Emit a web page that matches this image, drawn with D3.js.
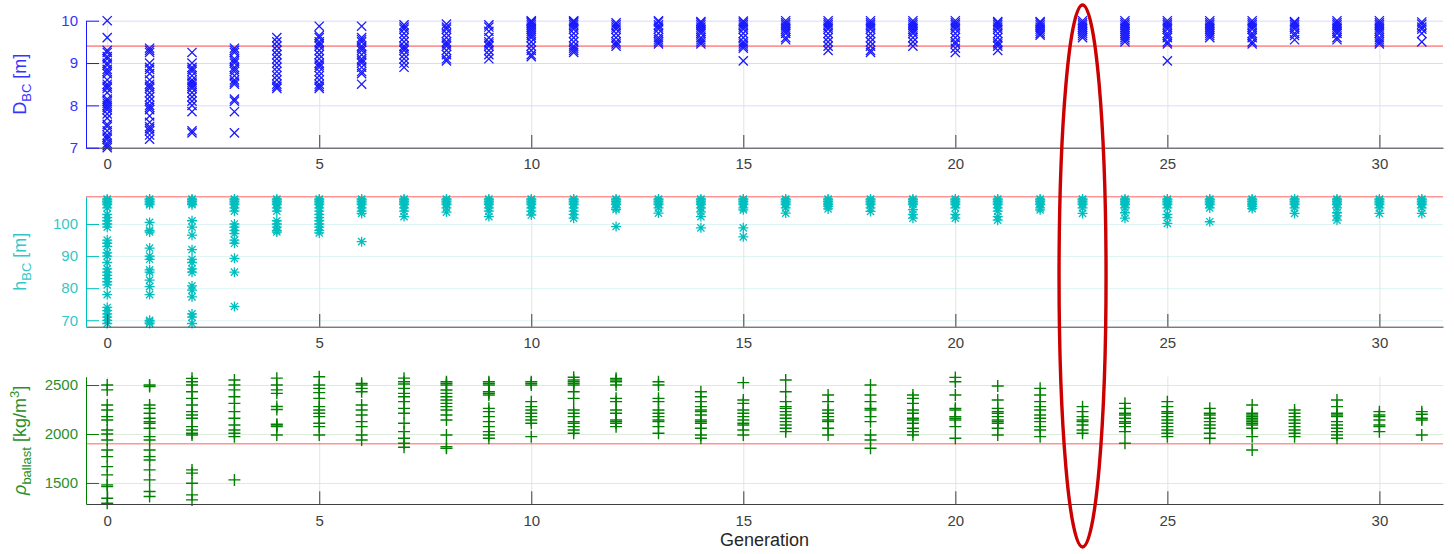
<!DOCTYPE html>
<html>
<head>
<meta charset="utf-8">
<script src="https://cdn.jsdelivr.net/npm/d3@7"></script>
<style>
  body { margin: 0; background: #fff; }
  svg { font-family: "Liberation Sans", Arial, sans-serif; }
</style>
</head>
<body>
<svg id="chart" width="1454" height="554"></svg>
<script>
// generations 0..31, one array of individuals per generation
var xTicks = [0, 5, 10, 15, 20, 25, 30];

// D_BC [m]
var dbc = [
  [10.0,9.6,9.3,9.25,9.15,9.1,9.0,8.95,8.85,8.8,8.75,8.6,8.5,8.45,8.4,8.3,8.15,8.1,8.05,8.0,7.95,7.9,7.8,7.7,7.55,7.5,7.4,7.3,7.25,7.2,7.1,7.05,7.0],
  [9.35,9.3,9.25,9.0,8.9,8.85,8.75,8.6,8.5,8.45,8.4,8.3,8.2,8.1,8.0,7.95,7.9,7.75,7.6,7.5,7.45,7.4,7.3,7.2],
  [9.25,9.0,8.9,8.85,8.8,8.7,8.6,8.55,8.5,8.45,8.4,8.3,8.2,8.1,8.0,7.85,7.4,7.35],
  [9.35,9.3,9.25,9.1,9.05,9.0,8.9,8.85,8.8,8.7,8.6,8.55,8.5,8.15,8.1,7.85,7.35],
  [9.6,9.5,9.4,9.3,9.2,9.1,9.0,8.9,8.8,8.7,8.6,8.5,8.45,8.4],
  [9.87,9.65,9.6,9.5,9.45,9.4,9.3,9.2,9.1,9.0,8.95,8.9,8.8,8.7,8.6,8.5,8.45,8.4],
  [9.87,9.6,9.55,9.5,9.4,9.35,9.3,9.2,9.1,9.05,9.0,8.9,8.8,8.75,8.5],
  [9.9,9.85,9.8,9.7,9.6,9.5,9.4,9.35,9.3,9.2,9.1,9.0,8.9],
  [9.92,9.85,9.8,9.7,9.6,9.5,9.45,9.4,9.3,9.2,9.1,9.05],
  [9.9,9.85,9.75,9.6,9.5,9.45,9.4,9.3,9.2,9.1],
  [10.0,9.98,9.95,9.9,9.85,9.8,9.75,9.7,9.65,9.6,9.5,9.4,9.3,9.2,9.15],
  [10.0,9.98,9.95,9.9,9.85,9.8,9.7,9.6,9.5,9.4,9.35,9.3,9.25],
  [9.95,9.9,9.85,9.8,9.7,9.6,9.5,9.45,9.4],
  [10.0,9.97,9.9,9.85,9.8,9.7,9.6,9.55,9.5,9.45],
  [9.98,9.95,9.9,9.85,9.8,9.75,9.7,9.6,9.55,9.5,9.45],
  [9.99,9.95,9.9,9.85,9.8,9.7,9.6,9.5,9.45,9.4,9.35,9.05],
  [10.0,9.95,9.9,9.85,9.8,9.75,9.7,9.6,9.55],
  [10.0,9.95,9.9,9.85,9.8,9.7,9.6,9.5,9.4,9.3],
  [10.0,9.95,9.9,9.85,9.8,9.7,9.6,9.5,9.4,9.3,9.25],
  [10.0,9.95,9.9,9.85,9.8,9.75,9.7,9.6,9.5,9.4],
  [10.0,9.95,9.9,9.85,9.8,9.7,9.6,9.5,9.45,9.35,9.25],
  [9.98,9.95,9.9,9.85,9.8,9.7,9.6,9.5,9.45,9.4,9.3],
  [9.98,9.95,9.9,9.85,9.8,9.75,9.7,9.66],
  [10.0,9.95,9.9,9.85,9.8,9.75,9.7,9.65,9.6],
  [10.0,9.95,9.9,9.85,9.8,9.75,9.7,9.65,9.6,9.55,9.5],
  [10.0,9.95,9.9,9.85,9.8,9.7,9.65,9.6,9.5,9.45,9.05],
  [10.0,9.95,9.9,9.85,9.8,9.75,9.7,9.65,9.6],
  [10.0,9.95,9.9,9.85,9.8,9.7,9.65,9.6,9.5,9.45],
  [9.98,9.95,9.9,9.85,9.8,9.7,9.65,9.55],
  [10.0,9.95,9.9,9.85,9.8,9.75,9.7,9.6,9.55],
  [10.0,9.95,9.9,9.85,9.8,9.75,9.7,9.6,9.55,9.5,9.45],
  [9.97,9.92,9.85,9.8,9.7,9.5]
];
var dTicks = [7, 8, 9, 10];
var dLimit = 9.4;

// h_BC [m]
var hbc = [
  [107.8,107.5,107,106.5,106,105,103,102,101,100,99,95,94,93,91,90,88,86,85,84,83,82,81,78,74,73,72,71,70,69],
  [107.8,107.5,107,106.5,106,100.5,98,97.5,92.5,90,89,85.7,85,82.5,80.5,78,70,69.5,69],
  [107.8,107.5,107,106.5,106,101,99,96.5,92,89,88,86,85,80.7,79.4,77.3,72,71,69],
  [107.8,107.5,107,106.5,106,105,104,100,99,98,97,95,94,89.3,85,74.3],
  [107.8,107.5,107,106.5,106,105,104,101,100,99,98,97.5],
  [107.8,107.5,107,106.5,106,105,104,103,102,101,100,99,98,97.2],
  [107.8,107.5,107,106.5,106,105,104,103.3,94.5],
  [107.8,107.5,107,106.5,106,105,104,102.3],
  [107.8,107.5,107,106.5,106,105,103.7],
  [107.8,107.5,107,106.5,106,105,104,102.3],
  [107.8,107.5,107,106.5,106,105,104,102.8],
  [107.8,107.5,107,106.5,106,105,104,103,101.8],
  [107.8,107.5,107,106.5,106,105,104.5,99.2],
  [107.8,107.5,107,106.5,106,105,103.4],
  [107.8,107.5,107,106.5,106,105,103.8,102.3,98.8],
  [107.8,107.5,107,106.5,106,105,104.4,98.8,96],
  [107.8,107.5,107,106.5,106,105,103.4],
  [107.8,107.5,107,106.5,106,105.5,104.7],
  [107.8,107.5,107,106.5,106,105,103.9],
  [107.8,107.5,107,106.5,106,104.5,103,101.8],
  [107.8,107.5,107,106.5,106,105,103,101.8],
  [107.8,107.5,107,106.5,106,105,104,102.3,101.2],
  [107.8,107.5,107,106.5,106,105,104.4],
  [107.8,107.5,107,106.5,106,105,103.3],
  [107.8,107.5,107,106.5,106,105,103.5,101.8],
  [107.8,107.5,107,106.5,106,105,103,102,100.2],
  [107.8,107.5,107,106.5,106,105,100.7],
  [107.8,107.5,107,106.5,106,105.5,104.8],
  [107.8,107.5,107,106.5,106,105,103.3],
  [107.8,107.5,107,106.5,106,105,103.5,102.5,101.2],
  [107.8,107.5,107,106.5,106,105,103.3],
  [107.8,107.5,107,106.5,106,105,103.3]
];
var hTicks = [70, 80, 90, 100];
var hLimit = 108.5;

// rho_ballast [kg/m3]
var rho = [
  [2500,2450,2296,2245,2177,2143,2041,2000,1939,1837,1769,1667,1582,1480,1463,1344,1293],
  [2500,2485,2296,2262,2211,2160,2126,2109,2058,1973,1939,1837,1769,1735,1633,1531,1412,1361],
  [2568,2534,2500,2432,2364,2296,2228,2194,2160,2075,2041,2007,1990,1633,1600,1497,1378,1327],
  [2551,2500,2450,2381,2313,2228,2160,2092,2041,2007,1973,1531],
  [2570,2500,2450,2415,2280,2250,2100,2090,2075,1990],
  [2585,2500,2466,2422,2364,2279,2245,2211,2177,2109,2075,1990],
  [2517,2500,2466,2432,2296,2245,2194,2126,2075,1990,1939],
  [2570,2534,2510,2466,2415,2381,2330,2262,2211,2109,2024,1956,1905,1864],
  [2534,2517,2500,2449,2415,2381,2347,2313,2279,2245,2194,2143,1990,1871,1854],
  [2534,2517,2500,2432,2415,2398,2262,2228,2177,2126,2075,2024,1990,1956],
  [2534,2517,2500,2330,2279,2245,2211,2177,2143,2109,1973],
  [2580,2551,2534,2517,2500,2432,2364,2245,2211,2177,2126,2109,2075,2041,2007],
  [2568,2551,2534,2500,2364,2330,2245,2211,2143,2126,2109,2075],
  [2534,2500,2364,2330,2245,2211,2177,2143,2126,2075,2007],
  [2432,2381,2330,2279,2245,2228,2194,2143,2126,2109,2058,1990,1956],
  [2524,2347,2313,2245,2211,2177,2143,2109,2092,2041,1990],
  [2551,2432,2330,2279,2262,2228,2194,2160,2126,2092,2058,2024],
  [2398,2330,2245,2211,2177,2143,2126,2058,1990],
  [2500,2398,2330,2262,2245,2177,2126,1990,1939,1854],
  [2398,2364,2313,2245,2211,2160,2143,2109,2058,2024,1990],
  [2578,2534,2398,2262,2245,2177,2160,2143,2075,1956],
  [2490,2347,2262,2228,2211,2177,2143,2126,2109,2058,1990],
  [2466,2398,2330,2279,2245,2194,2160,2126,2075,2041,1973],
  [2279,2228,2177,2143,2126,2092,2041,2007],
  [2313,2262,2211,2194,2160,2126,2109,2075,2024,1905],
  [2330,2279,2228,2211,2177,2143,2109,2075,2041,2007,1973],
  [2262,2211,2194,2160,2126,2092,2058,2007,1956],
  [2296,2211,2194,2177,2160,2143,2126,2109,2092,2058,1973,1837],
  [2245,2211,2177,2143,2109,2075,2041,2007,1973],
  [2347,2279,2211,2194,2177,2126,2092,2058,2024,1990,1956],
  [2228,2194,2177,2143,2092,2075,2024],
  [2228,2201,2160,2143,1990]
];
var rTicks = [1500, 2000, 2500];
var rLimit = 1900;

var highlightGen = 23;

var svg = d3.select("#chart");

var x = d3.scaleLinear().domain([-0.5, 31.5]).range([86, 1443]);
var plotWidth = 1443 - 86;

// marker shapes
var markers = {
  x: "M-4.6,-4.6L4.6,4.6M-4.6,4.6L4.6,-4.6",
  star: "M-5,0L5,0M0,-5L0,5M-3.6,-3.6L3.6,3.6M-3.6,3.6L3.6,-3.6",
  plus: "M-6,0L6,0M0,-6L0,6"
};

var panels = [
  {data: dbc, ticks: dTicks, limit: dLimit, domain: [7, 10], range: [147.7, 20.7],
   color: "#1a1aff", text: "#3535ff", grid: "#d9d9ff", marker: "x", width: 1.3},
  {data: hbc, ticks: hTicks, limit: hLimit, domain: [68, 108.5], range: [326.7, 196.7],
   color: "#00bfbf", text: "#33c8c8", grid: "#def4f4", marker: "star", width: 1.3},
  {data: rho, ticks: rTicks, limit: rLimit, domain: [1285, 2585], range: [504, 376.7],
   color: "#008000", text: "#2a8f2a", grid: "#dcebdc", marker: "plus", width: 1.4}
];

panels.forEach(function(p, i) {
  var y = d3.scaleLinear().domain(p.domain).range(p.range);
  var bottom = p.range[0], top = p.range[1];
  var g = svg.append("g");

  // horizontal grid
  g.append("g")
    .attr("transform", "translate(86,0)")
    .call(d3.axisLeft(y).tickValues(p.ticks).tickSize(-plotWidth).tickFormat(""))
    .call(function(s) {
      s.select(".domain").remove();
      s.selectAll("line").attr("stroke", p.grid).attr("stroke-width", 1);
    });

  // vertical grid
  g.append("g")
    .attr("transform", "translate(0," + bottom + ")")
    .call(d3.axisBottom(x).tickValues(xTicks).tickSize(-(bottom - top)).tickFormat(""))
    .call(function(s) {
      s.select(".domain").remove();
      s.selectAll("line").attr("stroke", "#e3e3e3").attr("stroke-width", 1);
    });

  // limit line
  g.append("line")
    .attr("x1", 86).attr("x2", 1443)
    .attr("y1", y(p.limit)).attr("y2", y(p.limit))
    .attr("stroke", "#ff0000").attr("stroke-opacity", 0.42).attr("stroke-width", 1.6);

  // points
  var pts = [];
  p.data.forEach(function(vals, gen) {
    vals.forEach(function(v) { pts.push({gen: gen, v: v}); });
  });
  g.append("g").selectAll("path")
    .data(pts)
    .enter()
    .append("path")
    .attr("transform", function(d) { return "translate(" + x(d.gen) + "," + y(d.v) + ")"; })
    .attr("d", markers[p.marker])
    .attr("fill", "none")
    .attr("stroke", p.color)
    .attr("stroke-width", p.width);

  // x axis
  g.append("g")
    .attr("transform", "translate(0," + bottom + ")")
    .call(d3.axisBottom(x).tickValues(xTicks).tickFormat(d3.format("d"))
      .tickSizeInner(-12.7).tickSizeOuter(0).tickPadding(11))
    .call(function(s) {
      s.select(".domain").attr("stroke", "#404040");
      s.selectAll("line").attr("stroke", "#404040");
      s.selectAll("text").attr("fill", "#404040").attr("font-size", 15)
        .attr("font-family", "Liberation Sans, Arial, sans-serif");
    });

  // y axis
  g.append("g")
    .attr("transform", "translate(86,0)")
    .call(d3.axisLeft(y).tickValues(p.ticks).tickFormat(d3.format("d"))
      .tickSizeInner(-13).tickSizeOuter(0).tickPadding(8))
    .call(function(s) {
      s.select(".domain").attr("stroke", p.color);
      s.selectAll("line").attr("stroke", p.color);
      s.selectAll("text").attr("fill", p.text).attr("font-size", 15)
        .attr("font-family", "Liberation Sans, Arial, sans-serif");
    });
});

// y labels
function yLabel(panel, parts) {
  var cy = (panel.range[0] + panel.range[1]) / 2;
  var t = svg.append("text")
    .attr("transform", "translate(26," + cy + ") rotate(-90)")
    .attr("text-anchor", "middle")
    .attr("fill", panel.text)
    .attr("font-size", 18);
  parts.forEach(function(part) {
    var s = t.append("tspan").text(part.text);
    if (part.dy) s.attr("dy", part.dy);
    if (part.size) s.attr("font-size", part.size);
    if (part.italic) s.attr("font-style", "italic");
  });
}
yLabel(panels[0], [{text: "D"}, {text: "BC", size: 13, dy: 5}, {text: " [m]", dy: -5}]);
yLabel(panels[1], [{text: "h"}, {text: "BC", size: 13, dy: 5}, {text: " [m]", dy: -5}]);
yLabel(panels[2], [{text: "ρ", italic: true}, {text: "ballast", size: 13, dy: 5},
  {text: " [kg/m", dy: -5}, {text: "3", size: 13, dy: -7}, {text: "]", dy: 7}]);

// x label
svg.append("text")
  .attr("x", (86 + 1443) / 2)
  .attr("y", 546)
  .attr("text-anchor", "middle")
  .attr("fill", "#262626")
  .attr("font-size", 18)
  .text("Generation");

// highlight ellipse
svg.append("ellipse")
  .attr("cx", x(highlightGen))
  .attr("cy", 276)
  .attr("rx", 23.5)
  .attr("ry", 271)
  .attr("fill", "none")
  .attr("stroke", "#cc0000")
  .attr("stroke-width", 3.4);
</script>
</body>
</html>
